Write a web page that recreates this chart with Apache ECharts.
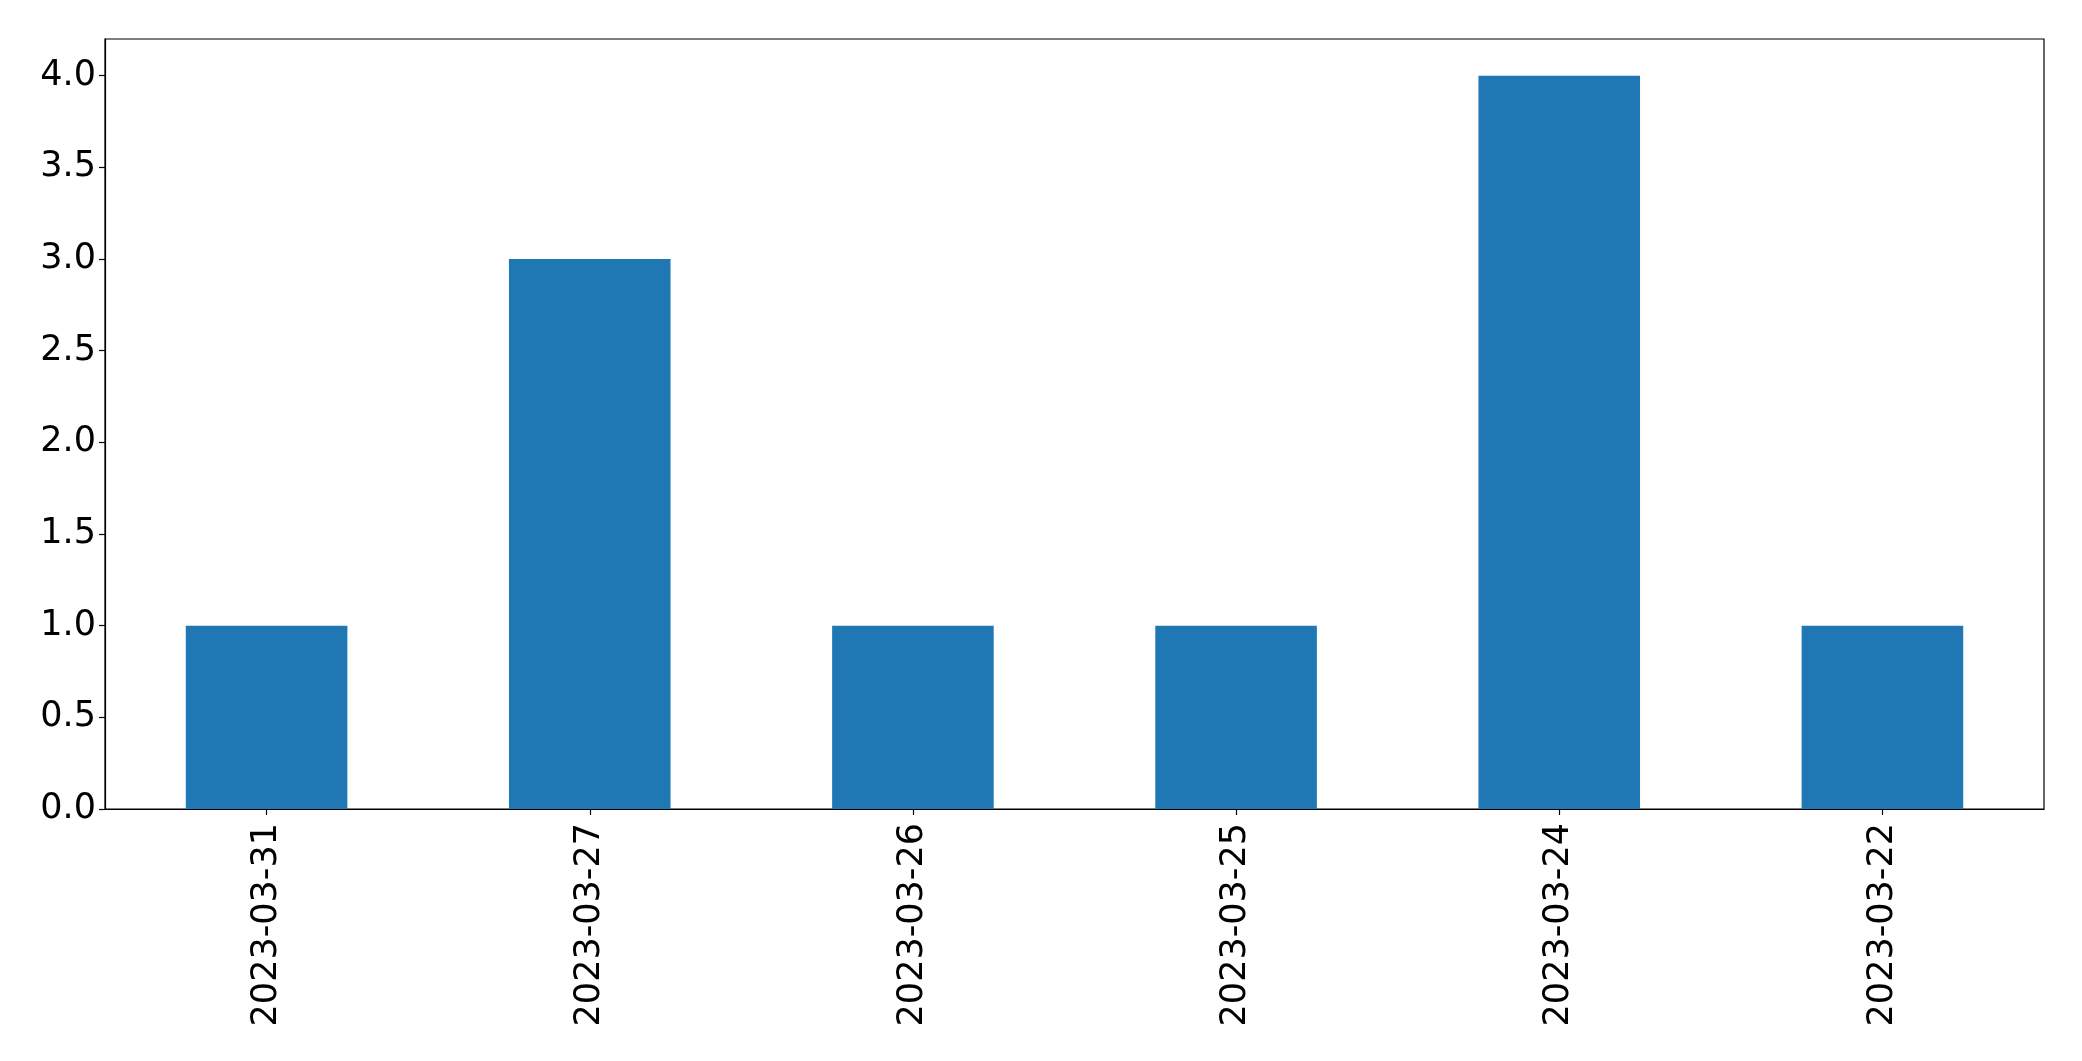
<!DOCTYPE html>
<html>
<head>
<meta charset="utf-8">
<script src="https://cdn.jsdelivr.net/npm/echarts@6/dist/echarts.min.js"></script>
<style>
html,body{margin:0;padding:0;background:#fff;}
#chart{width:2082px;height:1061px;}
</style>
</head>
<body>
<div id="chart"></div>
<script>
const categories = ['2023-03-31','2023-03-27','2023-03-26','2023-03-25','2023-03-24','2023-03-22'];
const counts = [1, 3, 1, 1, 4, 1];
const yTicks = [0, 0.5, 1.0, 1.5, 2.0, 2.5, 3.0, 3.5, 4.0];

const chart = echarts.init(document.getElementById('chart'), null, {renderer:'canvas'});
const font = 'DejaVu Sans';
chart.setOption({
  animation: false,
  backgroundColor: '#fff',
  grid: {
    left: 105, right: 38, top: 39, bottom: 252,
    show: true, borderColor: '#000', borderWidth: 1.2, backgroundColor: 'transparent'
  },
  xAxis: {
    type: 'category',
    data: categories,
    axisLine: {show: true, lineStyle: {color: '#000', width: 1.2}},
    axisTick: {show: true, alignWithLabel: true, length: 6, lineStyle: {color: '#000', width: 1.2}},
    axisLabel: {rotate: 90, fontFamily: font, fontSize: 35, color: '#000', margin: 14, interval: 0},
    splitLine: {show: false}
  },
  yAxis: {
    type: 'value',
    min: 0, max: 4.2, interval: 0.5,
    axisLine: {show: true, lineStyle: {color: '#000', width: 1.2}},
    axisTick: {show: true, length: 6, customValues: yTicks, lineStyle: {color: '#000', width: 1.2}},
    axisLabel: {fontFamily: font, fontSize: 35, color: '#000', margin: 9, customValues: yTicks,
      padding: [16, 0, 0, 0],
      formatter: v => Number(v).toFixed(1)},
    splitLine: {show: false}
  },
  series: [{
    type: 'bar',
    data: counts,
    barWidth: '50%',
    itemStyle: {color: '#1f77b4'}
  }]
});
</script>
</body>
</html>
